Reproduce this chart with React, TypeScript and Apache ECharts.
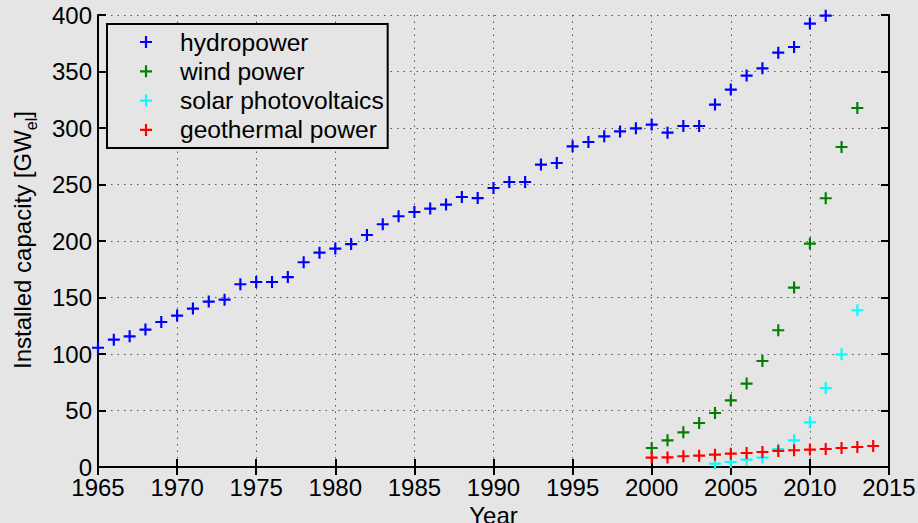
import React, { useEffect, useRef } from "react";
import * as echarts from "echarts";

const xTicks = [1965, 1970, 1975, 1980, 1985, 1990, 1995, 2000, 2005, 2010, 2015];
const yTicks = [0, 50, 100, 150, 200, 250, 300, 350, 400];

const hydroYears = [
  1965, 1966, 1967, 1968, 1969, 1970, 1971, 1972, 1973, 1974, 1975, 1976, 1977, 1978, 1979, 1980,
  1981, 1982, 1983, 1984, 1985, 1986, 1987, 1988, 1989, 1990, 1991, 1992, 1993, 1994, 1995, 1996,
  1997, 1998, 1999, 2000, 2001, 2002, 2003, 2004, 2005, 2006, 2007, 2008, 2009, 2010, 2011,
];
const hydroValues = [
  105.5, 112.7, 115.6, 121.6, 128.3, 134, 140.2, 146.4, 148.1, 161.7, 163.7, 163.7, 168.1, 181.2,
  189.7, 193.3, 197.3, 205.3, 214.8, 221.9, 225.7, 228.7, 232.2, 238.9, 238, 246.9, 252.2, 252.2,
  267.6, 269, 283.8, 287.6, 292.6, 297, 299.7, 303, 295.9, 301.8, 301.8, 320.7, 334, 346.4, 352.8,
  366.7, 371.7, 392.4, 399.4,
];

const windYears = [2000, 2001, 2002, 2003, 2004, 2005, 2006, 2007, 2008, 2009, 2010, 2011, 2012, 2013];
const windValues = [16.8, 23.6, 30.7, 38.9, 47.8, 59, 73.8, 93.8, 121, 158.8, 197.7, 237.8, 283.2, 317.7];

const solarYears = [2004, 2005, 2006, 2007, 2008, 2009, 2010, 2011, 2012, 2013];
const solarValues = [3, 4.4, 6.5, 8.3, 15.8, 23.6, 39.6, 69.9, 99.7, 138.7];

const geoYears = [2000, 2001, 2002, 2003, 2004, 2005, 2006, 2007, 2008, 2009, 2010, 2011, 2012, 2013, 2014];
const geoValues = [8.3, 8.5, 9.5, 10, 10.9, 11.8, 12.4, 13.3, 14.2, 14.8, 15.4, 15.9, 16.8, 17.7, 18.6];

const seriesNames = ["hydropower", "wind power", "solar photovoltaics", "geothermal power"];
const seriesColors = ["#0000ff", "#008000", "#00ffff", "#ff0000"];

const FONT = '"Liberation Sans", Arial, Helvetica, sans-serif';
const BG = "#e5e5e5";
const PLUS = "path://M41,0h18v41h41v18h-41v41h-18v-41h-41v-18h41z";

const pairs = (xs: number[], ys: number[]) => xs.map((x, i) => [x, ys[i]]);

export default function App() {
  const ref = useRef<HTMLDivElement>(null);

  useEffect(() => {
    if (!ref.current) return;
    const chart = echarts.init(ref.current, undefined, { renderer: "svg" });

    const xMin = xTicks[0];
    const xMax = xTicks[xTicks.length - 1];
    const xInt = xTicks[1] - xTicks[0];
    const yMin = yTicks[0];
    const yMax = yTicks[yTicks.length - 1];
    const yInt = yTicks[1] - yTicks[0];

    const axisLine = { show: true, lineStyle: { color: "#000", width: 2 } };
    const axisTick = { show: true, inside: true, length: 8, lineStyle: { color: "#000", width: 2 } };
    const splitLine = { show: true, lineStyle: { color: "#555", width: 1, type: [1.5, 5] as any } };
    const labelStyle = { color: "#000", fontSize: 24, fontFamily: FONT };

    const datasets = [
      pairs(hydroYears, hydroValues),
      pairs(windYears, windValues),
      pairs(solarYears, solarValues),
      pairs(geoYears, geoValues),
    ];

    chart.setOption({
      animation: false,
      backgroundColor: BG,
      grid: { left: 98, right: 29, top: 15, bottom: 56, containLabel: false, outerBoundsMode: "none" },
      xAxis: [
        {
          type: "value",
          position: "bottom",
          min: xMin,
          max: xMax,
          interval: xInt,
          axisLine,
          axisTick,
          splitLine,
          axisLabel: { ...labelStyle, margin: 8, showMinLabel: true, showMaxLabel: true, formatter: (v: number) => String(v) },
          name: "Year",
          nameLocation: "middle",
          nameGap: 32,
          nameTextStyle: { color: "#000", fontSize: 24, fontFamily: FONT },
        },
        {
          type: "value",
          position: "top",
          min: xMin,
          max: xMax,
          interval: xInt,
          axisLine,
          axisTick,
          splitLine: { show: false },
          axisLabel: { show: false },
        },
      ],
      yAxis: [
        {
          type: "value",
          position: "left",
          min: yMin,
          max: yMax,
          interval: yInt,
          axisLine,
          axisTick,
          splitLine,
          axisLabel: { ...labelStyle, margin: 6, showMinLabel: true, showMaxLabel: true },
        },
        {
          type: "value",
          position: "right",
          min: yMin,
          max: yMax,
          interval: yInt,
          axisLine,
          axisTick,
          splitLine: { show: false },
          axisLabel: { show: false },
        },
      ],
      legend: {
        orient: "vertical",
        left: 107,
        top: 24,
        padding: [5, 4, 5, 33],
        itemGap: 3.3,
        itemWidth: 12,
        itemHeight: 12,
        borderColor: "#000",
        borderWidth: 2,
        borderRadius: 0,
        backgroundColor: BG,
        textStyle: { color: "#000", fontSize: 24.6, fontFamily: FONT, lineHeight: 26, padding: [0, 0, 0, 23] },
        data: seriesNames.map((n) => ({ name: n, icon: PLUS })),
      },
      graphic: [
        {
          type: "text",
          x: 22,
          y: 240,
          rotation: Math.PI / 2,
          style: {
            text: "{a|Installed capacity [GW}{s|el}{a|]}",
            align: "center",
            verticalAlign: "middle",
            fill: "#000",
            rich: {
              a: { fontSize: 24, fontFamily: FONT, lineHeight: 34, fill: "#000" },
              s: { fontSize: 16, fontFamily: FONT, lineHeight: 16, verticalAlign: "bottom", fill: "#000" },
            },
          },
        },
      ],
      series: datasets.map((d, i) => ({
        name: seriesNames[i],
        type: "scatter",
        xAxisIndex: 0,
        yAxisIndex: 0,
        data: d,
        symbol: PLUS,
        symbolSize: 12,
        itemStyle: { color: seriesColors[i], opacity: 1 },
        emphasis: { disabled: true },
        silent: true,
      })),
    });

    return () => chart.dispose();
  }, []);

  return (
    <div
      ref={ref}
      style={{ position: "fixed", left: 0, top: 0, width: 918, height: 523, background: BG }}
    />
  );
}
